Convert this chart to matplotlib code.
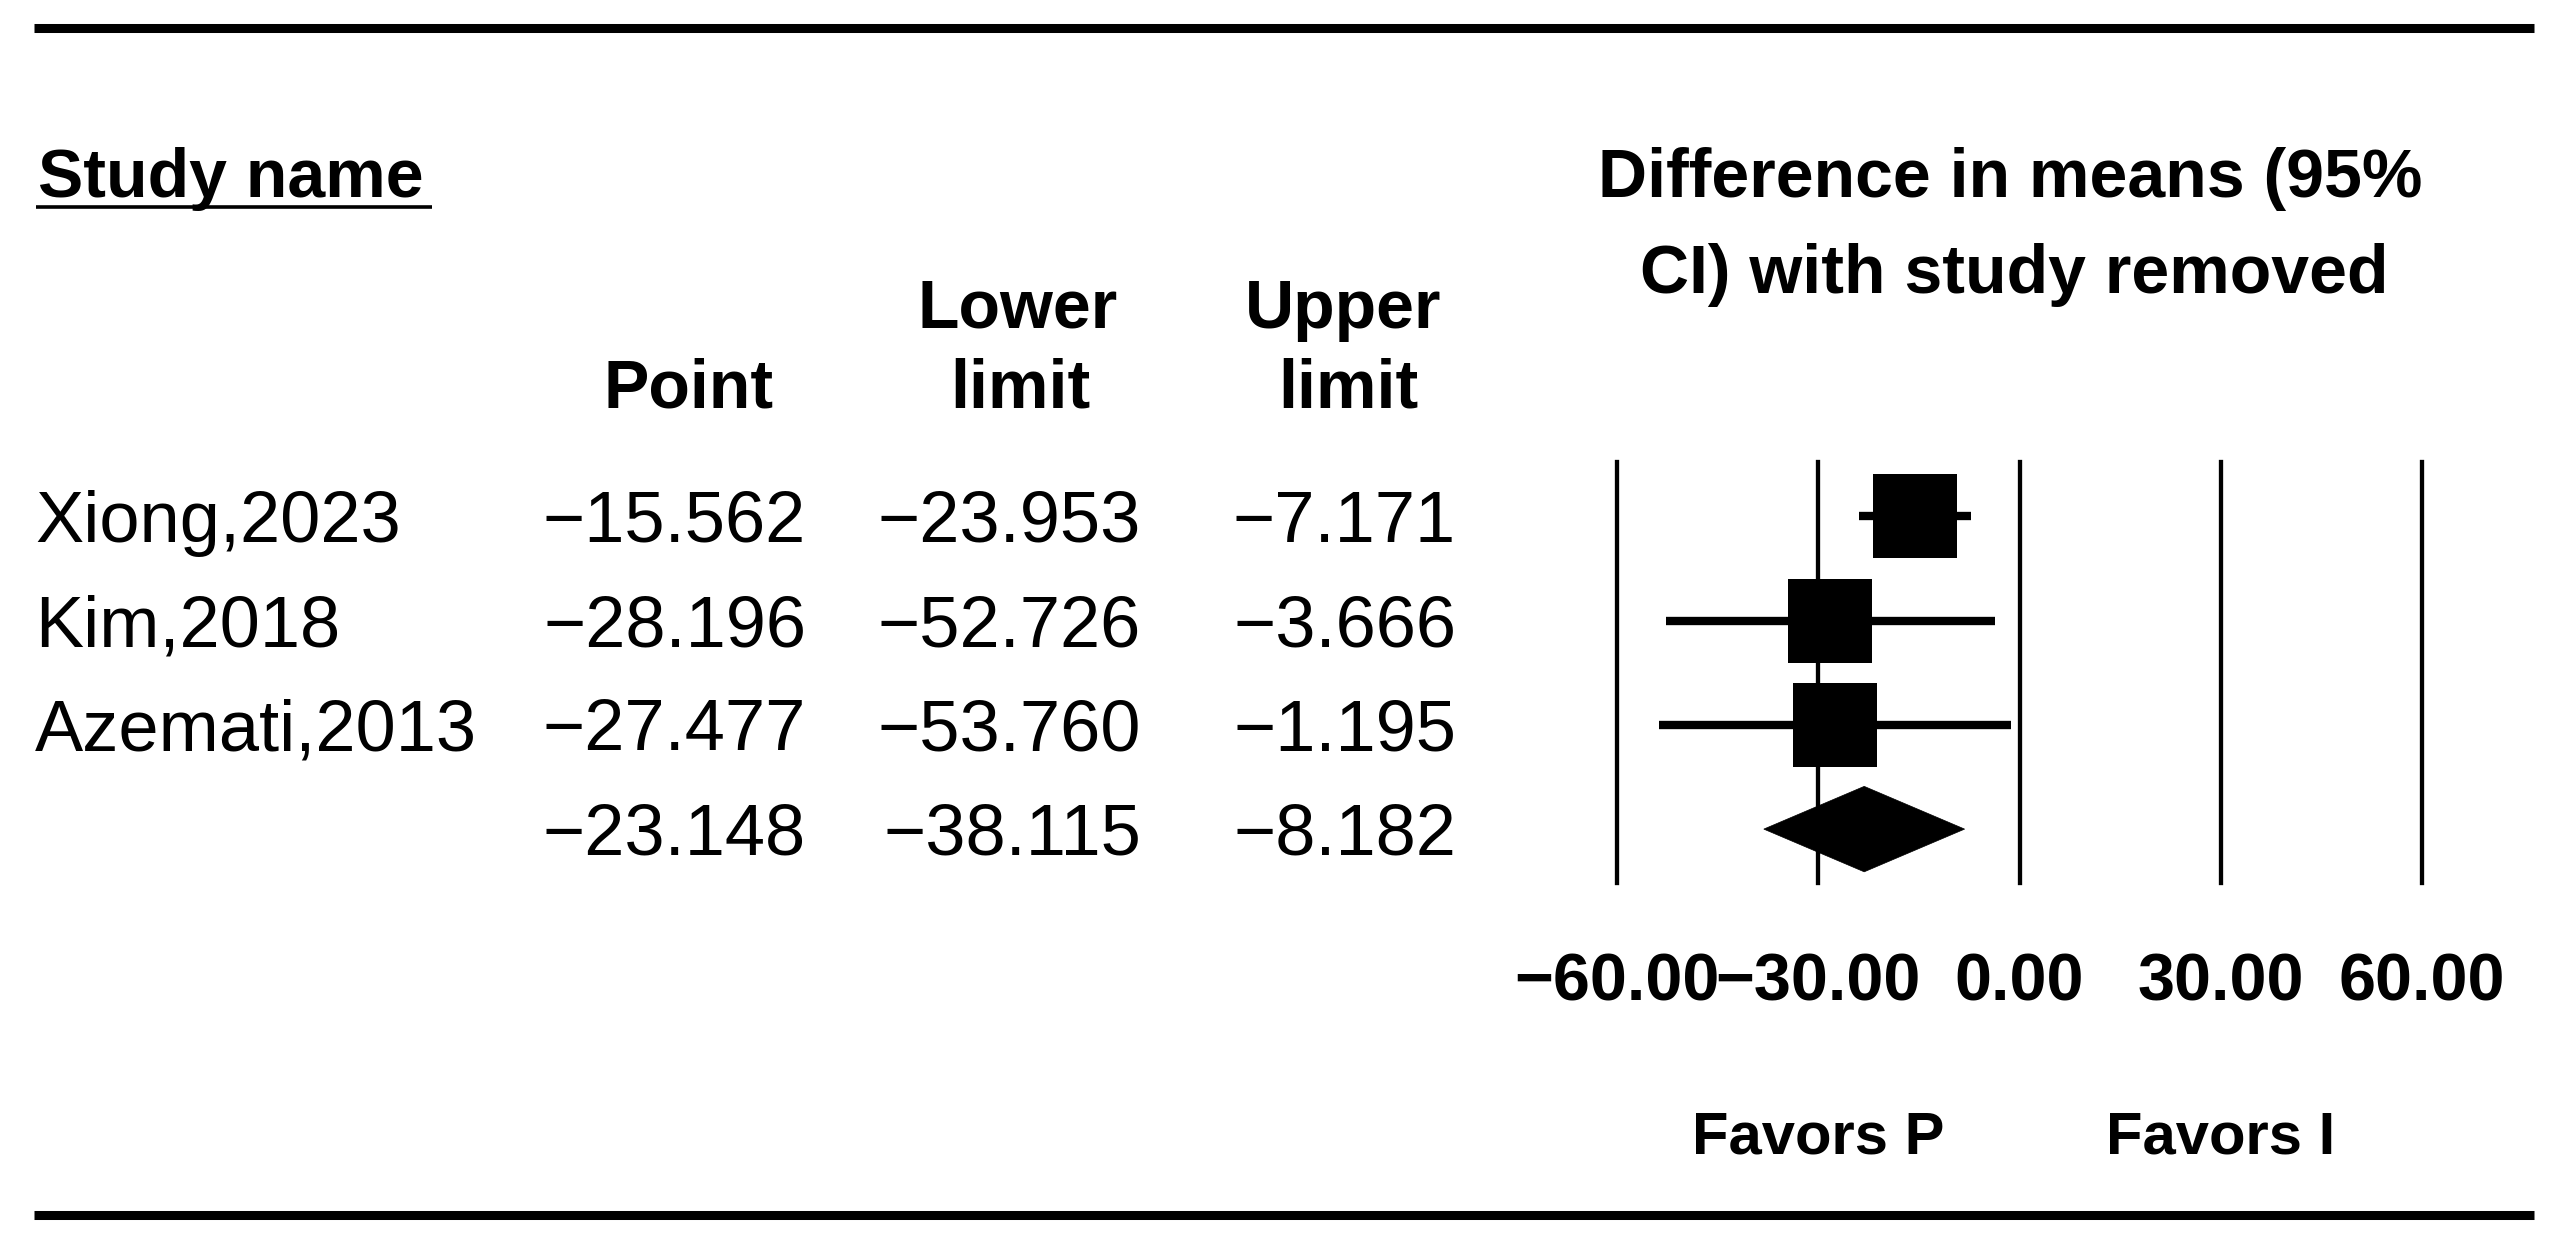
import matplotlib

matplotlib.use("Agg")
import matplotlib.pyplot as plt
from matplotlib.patches import Polygon
from matplotlib.transforms import blended_transform_factory

plt.rcParams["font.family"] = ["Liberation Sans", "DejaVu Sans"]

# data
studies = ["Xiong,2023", "Kim,2018", "Azemati,2013"]
points = [-15.562, -28.196, -27.477]
lowers = [-23.953, -52.726, -53.760]
uppers = [-7.171, -3.666, -1.195]
pooled = [-23.148, -38.115, -8.182]  # point, lower, upper
ticks = [-60, -30, 0, 30, 60]
favors = ["Favors P", "Favors I"]


def fmt(v, nd=3):
    return f"{v:.{nd}f}".replace("-", "\u2212")


W, H = 2556, 1245
fig = plt.figure(figsize=(W / 100, H / 100), dpi=100)

# overlay axes in pixel coordinates for the table part
ov = fig.add_axes([0, 0, 1, 1])
ov.set_xlim(0, W)
ov.set_ylim(H, 0)
ov.axis("off")

# forest axes: -60..60 maps to x px 1617..2422, rows at y px 516.5 + 104.2*i
x0, x1 = 1617, 2422
y_top, y_bot = 462, 883
row0, row_step = 516.5, 104.2
ax = fig.add_axes([x0 / W, 1 - y_bot / H, (x1 - x0) / W, (y_bot - y_top) / H])
ax.set_xlim(ticks[0], ticks[-1])
ax.set_ylim((y_bot - row0) / row_step, (y_top - row0) / row_step)
for s in ax.spines.values():
    s.set_visible(False)
ax.set_yticks([])
ax.set_xticks(ticks)
ax.set_xticklabels([fmt(t, 2) for t in ticks], fontsize=48, fontweight="bold")
ax.tick_params(axis="x", length=0, pad=50)
ax.patch.set_alpha(0)

for t in ticks:
    ax.axvline(t, color="black", lw=3.1, clip_on=False)

rows = list(range(len(studies)))
ax.hlines(rows, lowers, uppers, color="black", lw=6)
ax.plot(points, rows, "s", ms=61, color="black", mew=0)

r = len(studies)
p, lo, up = pooled
half = 0.41
ax.add_patch(Polygon([(lo, r), (p, r - half), (up, r), (p, r + half)],
                     closed=True, facecolor="black", edgecolor="black", lw=0.5))

# table text
reg = dict(fontsize=52, va="baseline", color="black")
bold = dict(fontsize=49, va="baseline", color="black", fontweight="bold")

all_names = studies + [""]
all_pts = points + [pooled[0]]
all_lo = lowers + [pooled[1]]
all_up = uppers + [pooled[2]]
for i in range(len(all_names)):
    yb = 542 + row_step * i
    ov.text(35, yb, all_names[i], ha="left", **reg)
    ov.text(806, yb, fmt(all_pts[i]), ha="right", **reg)
    ov.text(1141, yb, fmt(all_lo[i]), ha="right", **reg)
    ov.text(1456, yb, fmt(all_up[i]), ha="right", **reg)

ov.text(38, 197, "Study name", ha="left", **bold)
ov.plot([36, 432], [207, 207], color="black", lw=2.6, solid_capstyle="butt")
ov.text(689, 408, "Point", ha="center", **bold)
ov.text(1018, 328, "Lower", ha="center", **bold)
ov.text(1020, 408, "limit", ha="center", **bold)
ov.text(1343, 328, "Upper", ha="center", **bold)
ov.text(1348, 408, "limit", ha="center", **bold)
ov.text(2010, 197, "Difference in means (95%", ha="center", **bold)
ov.text(2014, 293, "CI) with study removed", ha="center", **bold)

# favors labels under -30 and +30
bt = blended_transform_factory(ax.transData, ov.transData)
fav = dict(bold, fontsize=43)
ov.text(-30, 1153, favors[0], ha="center", transform=bt, **fav)
ov.text(30, 1153, favors[1], ha="center", transform=bt, **fav)

# top and bottom rules
ov.plot([34, 2534], [28, 28], color="black", lw=6.5, solid_capstyle="butt")
ov.plot([34, 2534], [1215, 1215], color="black", lw=6.5, solid_capstyle="butt")

fig.savefig("out.png", dpi=100)
